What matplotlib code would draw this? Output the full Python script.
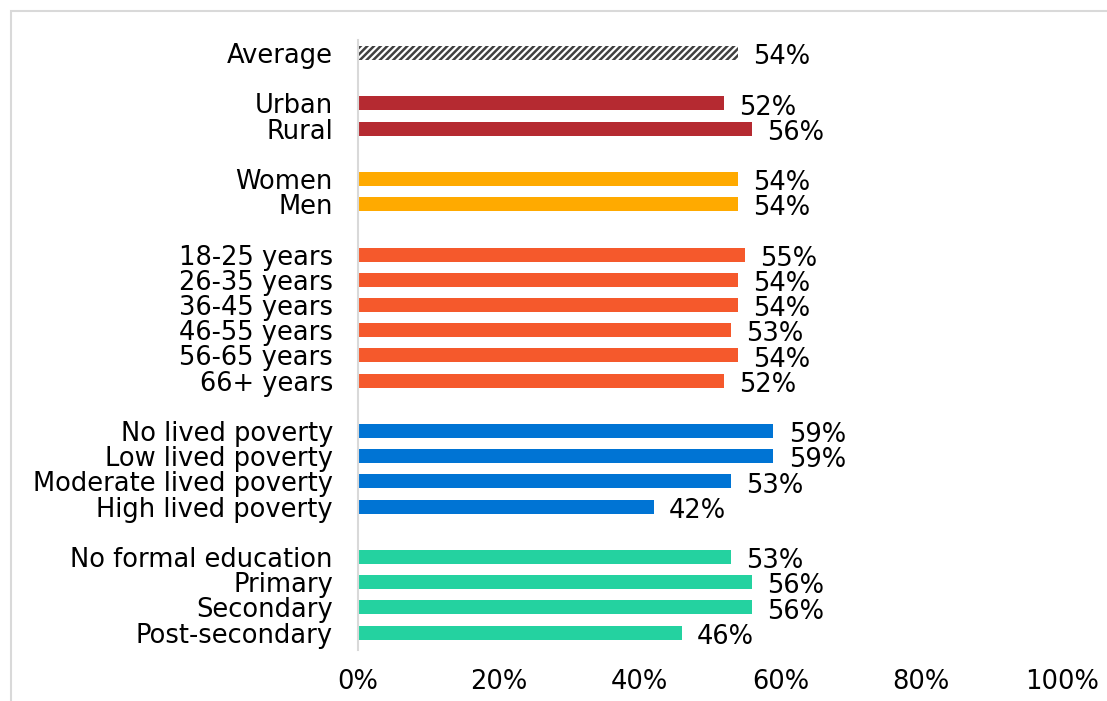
import matplotlib.pyplot as plt
from matplotlib.patches import Rectangle

# グループごとのカテゴリと値 (%)
avg_labels = ['Average']
avg_values = [54]
area_labels = ['Urban', 'Rural']
area_values = [52, 56]
gender_labels = ['Women', 'Men']
gender_values = [54, 54]
age_labels = ['18-25 years', '26-35 years', '36-45 years', '46-55 years', '56-65 years', '66+ years']
age_values = [55, 54, 54, 53, 54, 52]
poverty_labels = ['No lived poverty', 'Low lived poverty', 'Moderate lived poverty', 'High lived poverty']
poverty_values = [59, 59, 53, 42]
edu_labels = ['No formal education', 'Primary', 'Secondary', 'Post-secondary']
edu_values = [53, 56, 56, 46]
xticks = [0, 20, 40, 60, 80, 100]

groups = [
    (avg_labels, avg_values, None),
    (area_labels, area_values, '#B52A31'),
    (gender_labels, gender_values, '#FFAA00'),
    (age_labels, age_values, '#F5592C'),
    (poverty_labels, poverty_values, '#0074D4'),
    (edu_labels, edu_values, '#24D2A0'),
]

plt.rcParams['font.family'] = ['DejaVu Sans']
plt.rcParams['hatch.linewidth'] = 1.8
FS = 18.5

fig = plt.figure(figsize=(11.07, 7.01), dpi=100)
ax = fig.add_axes([358 / 1107, 1 - 650 / 701, (1062 - 358) / 1107, 610 / 701])

# グループの間に1行分の空きを入れて並べる
pos = 0
ypos, ylabels = [], []
for labels, values, color in groups:
    for lab, val in zip(labels, values):
        if color is None:
            ax.barh(pos, val, height=0.55, color='white', edgecolor='#404040',
                    hatch='/////', linewidth=0)
        else:
            ax.barh(pos, val, height=0.55, color=color, linewidth=0)
        ax.annotate(f'{val}%', (val, pos), xytext=(11, -3), textcoords='offset points',
                    va='center', ha='left', fontsize=FS)
        ypos.append(pos)
        ylabels.append(lab)
        pos += 1
    pos += 1

ax.set_xlim(0, 100)
ax.set_ylim(23.69, -0.516)
ax.set_yticks(ypos)
ax.set_yticklabels(ylabels, fontsize=FS)
ax.set_xticks(xticks)
ax.set_xticklabels([f'{t}%' for t in xticks], fontsize=FS)
ax.tick_params(axis='y', length=0, pad=18)
ax.tick_params(axis='x', length=0, pad=14)
for side in ['top', 'right', 'bottom']:
    ax.spines[side].set_visible(False)
ax.spines['left'].set_color('#D9D9D9')
ax.spines['left'].set_linewidth(1.5)

# 外枠
fig.patches.append(Rectangle((11 / 1107, -0.05), 1.2, 1 - 11 / 701 + 0.05,
                             transform=fig.transFigure, fill=False,
                             edgecolor='#D9D9D9', linewidth=1.5))

fig.savefig('out.png', dpi=100)
